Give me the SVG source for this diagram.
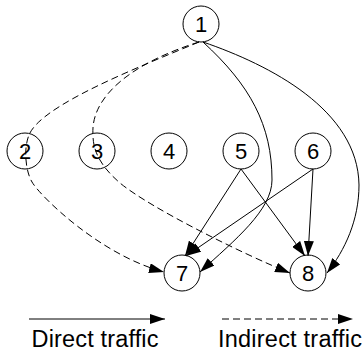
<svg xmlns="http://www.w3.org/2000/svg" width="362" height="358" viewBox="0 0 362 358">
<style>
.node circle{fill:#fff;stroke:#000;stroke-width:1}
.node text,.legend text{font-family:"Liberation Sans",Arial,sans-serif;font-size:22px;fill:#000}
.legend text{font-size:23.5px}
.node text{text-anchor:middle}
.edge{fill:none;stroke:#000;stroke-width:1;marker-end:url(#arr)}
.dash{stroke-dasharray:7,4}
</style>
<defs>
<marker id="arr" markerUnits="userSpaceOnUse" markerWidth="15" markerHeight="10" refX="15" refY="5" orient="auto">
<path d="M0,0 L15,5 L0,10 Z" fill="#000"/>
</marker>
</defs>
<rect width="362" height="358" fill="#fff"/>
<g id="node1" class="node"><circle cx="201" cy="24" r="18"/><text x="201" y="32">1</text></g>
<g id="node2" class="node"><circle cx="25" cy="151" r="18"/><text x="25" y="159">2</text></g>
<g id="node3" class="node"><circle cx="97" cy="151" r="18"/><text x="97" y="159">3</text></g>
<g id="node4" class="node"><circle cx="169" cy="151" r="18"/><text x="169" y="159">4</text></g>
<g id="node5" class="node"><circle cx="241" cy="151" r="18"/><text x="241" y="159">5</text></g>
<g id="node6" class="node"><circle cx="313" cy="151" r="18"/><text x="313" y="159">6</text></g>
<g id="node7" class="node"><circle cx="182" cy="273" r="18"/><text x="182" y="281">7</text></g>
<g id="node8" class="node"><circle cx="308" cy="273" r="18"/><text x="308" y="281">8</text></g>
<g id="connectors">
<path class="edge dash" d="M199,42 C139,67 41,105 29,135 C23,150 26,172 32,182 C40,196 100,255 164,272"/>
<path class="edge dash" d="M199,42 C135,62 90,95 93,135 C93,155 105,170 120,183 C150,208 245,255 290,273"/>
<path class="edge" d="M203,42 C250,85 272,125 272,180 C272,210 235,240 200,272"/>
<path class="edge" d="M203,42 C270,65 358,110 359,185 C359,220 345,250 327,273"/>
<path class="edge" d="M241,169 L185,256"/>
<path class="edge" d="M241,169 L305,256"/>
<path class="edge" d="M313,169 L186,256"/>
<path class="edge" d="M313,169 L308,256"/>
</g>
<g id="legend" class="legend">
<path class="edge" d="M29,319 L165,319"/>
<path class="edge dash" d="M222,319 L353,319"/>
<text x="31.5" y="347" textLength="127" lengthAdjust="spacing">Direct traffic</text>
<text x="218" y="347" textLength="144" lengthAdjust="spacing">Indirect traffic</text>
</g>
</svg>
